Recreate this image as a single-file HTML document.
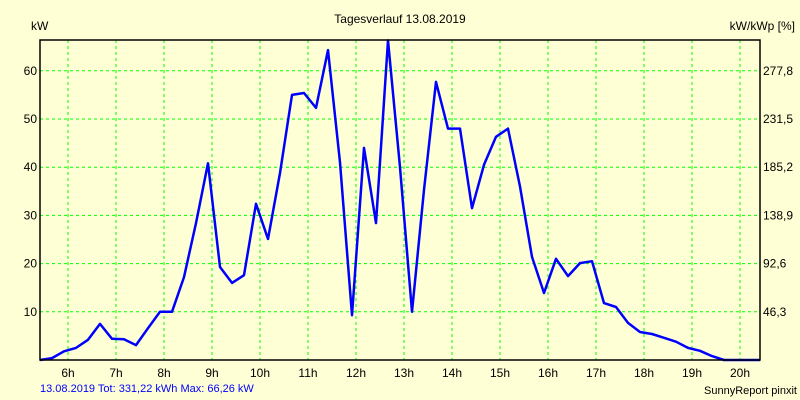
<!DOCTYPE html>
<html><head><meta charset="utf-8"><style>
body{margin:0;background:#ffffd6;}
svg{display:block;font-family:"Liberation Sans",sans-serif;}
</style></head><body>
<svg id="chart" width="800" height="400" viewBox="0 0 800 400">
<rect x="0" y="0" width="800" height="400" fill="#ffffd6"/>
<text x="400" y="23" font-size="12" text-anchor="middle" fill="#000">Tagesverlauf 13.08.2019</text>
<text x="31" y="30" font-size="12" fill="#000">kW</text>
<text x="795" y="30" font-size="12" text-anchor="end" fill="#000">kW/kWp [%]</text>
<g id="grid"></g>
<g id="ticks"></g>
<polyline id="line" fill="none" stroke="#0000ff" stroke-width="2.5" stroke-linejoin="round"/>
<rect x="40" y="40" width="720" height="320" fill="none" stroke="#000" stroke-width="1.5"/>
<text x="40" y="392" font-size="11" fill="#0000ff">13.08.2019 Tot: 331,22 kWh Max: 66,26 kW</text>
<text x="797" y="394" font-size="11" text-anchor="end" fill="#000">SunnyReport pinxit</text>
</svg>
<script>
const hourLabels=["6h","7h","8h","9h","10h","11h","12h","13h","14h","15h","16h","17h","18h","19h","20h"];
const hourValues=[6,7,8,9,10,11,12,13,14,15,16,17,18,19,20];
const yTicks=[10,20,30,40,50,60];
const y2Labels=["46,3","92,6","138,9","185,2","231,5","277,8"];
const startHour=5.4167;
const stepHour=0.25;
const power=[0,0.4,1.8,2.5,4.2,7.5,4.4,4.3,3.1,6.6,10,10,17.2,28.4,40.8,19.3,16,17.6,32.4,25.1,38.8,55,55.4,52.3,64.3,41,9.3,44,28.4,66.3,40,10,35.3,57.7,48,48,31.5,40.5,46.3,48,36,21.4,13.9,21,17.4,20.1,20.5,11.8,11,7.7,5.8,5.4,4.6,3.8,2.5,1.9,0.8,0,0,0,0];
const NS="http://www.w3.org/2000/svg";
function xs(h){return 68+(h-6)*48;}
function ys(v){return 360-v*4.82;}
const grid=document.getElementById('grid'),ticks=document.getElementById('ticks');
hourValues.forEach((h,i)=>{
 const l=document.createElementNS(NS,'line');
 
 
 l.setAttribute('x1',xs(h));l.setAttribute('x2',xs(h));l.setAttribute('y1',40);l.setAttribute('y2',360);
 l.setAttribute('stroke','#00ff00');l.setAttribute('stroke-dasharray','3,3');
 grid.appendChild(l);
 const t=document.createElementNS(NS,'text');
 
 
 t.setAttribute('x',xs(h));t.setAttribute('y',377);t.setAttribute('font-size','12');t.setAttribute('text-anchor','middle');
 t.textContent=hourLabels[i];ticks.appendChild(t);
});
yTicks.forEach((v,i)=>{
 const l=document.createElementNS(NS,'line');
 
 
 l.setAttribute('x1',40);l.setAttribute('x2',760);l.setAttribute('y1',ys(v));l.setAttribute('y2',ys(v));
 l.setAttribute('stroke','#00ff00');l.setAttribute('stroke-dasharray','3,3');
 grid.appendChild(l);
 const t=document.createElementNS(NS,'text');
 
 
 t.setAttribute('x',37);t.setAttribute('y',ys(v)+4);t.setAttribute('font-size','12');t.setAttribute('text-anchor','end');
 t.textContent=v;ticks.appendChild(t);
 const t2=document.createElementNS(NS,'text');
 
 
 t2.setAttribute('x',763);t2.setAttribute('y',ys(v)+4);t2.setAttribute('font-size','12');
 t2.textContent=y2Labels[i];ticks.appendChild(t2);
});
document.getElementById('line').setAttribute('points',power.map((v,i)=>xs(startHour+i*stepHour).toFixed(1)+','+ys(v).toFixed(1)).join(' '));
</script>
</body></html>
